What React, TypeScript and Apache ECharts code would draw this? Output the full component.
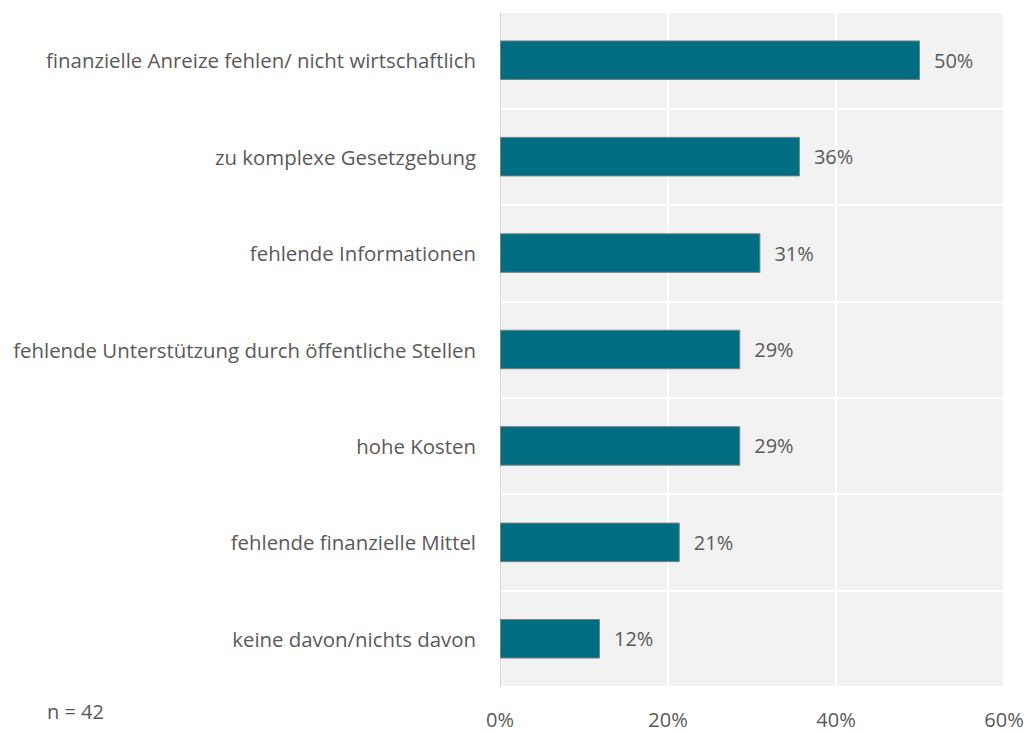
import React, { useEffect, useRef } from "react";
import * as echarts from "echarts";

const categories = [
  "finanzielle Anreize fehlen/ nicht wirtschaftlich",
  "zu komplexe Gesetzgebung",
  "fehlende Informationen",
  "fehlende Unterstützung durch öffentliche Stellen",
  "hohe Kosten",
  "fehlende finanzielle Mittel",
  "keine davon/nichts davon",
];
const values = [50.0, 35.7, 31.0, 28.6, 28.6, 21.4, 11.9];
const xTicks = [0, 20, 40, 60];
const noteText = "n = 42";

const FONT = "'Open Sans', 'Noto Sans', sans-serif";
const FS = 20;

export default function App() {
  const ref = useRef<HTMLDivElement>(null);
  useEffect(() => {
    if (!ref.current) return;
    const chart = echarts.init(ref.current, null, { renderer: "svg" });
    chart.setOption({
      animation: false,
      textStyle: { fontFamily: FONT },
      grid: {
        left: 500,
        right: 24,
        top: 12,
        bottom: 44,
        show: true,
        backgroundColor: "#f2f2f2",
        borderWidth: 0,
      },
      xAxis: {
        type: "value",
        min: xTicks[0],
        max: xTicks[xTicks.length - 1],
        interval: 20,
        axisLine: { show: false },
        axisTick: { show: false },
        splitLine: { show: true, lineStyle: { color: "#ffffff", width: 2 } },
        axisLabel: {
          color: "#595959",
          fontSize: FS,
          fontFamily: FONT,
          margin: 22,
          formatter: (v: number) => `${v}%`,
        },
      },
      yAxis: {
        type: "category",
        inverse: true,
        data: categories,
        axisLine: { show: true, lineStyle: { color: "#d9d9d9", width: 1 } },
        axisTick: { show: false },
        splitLine: { show: true, lineStyle: { color: "#ffffff", width: 2 } },
        axisLabel: {
          color: "#595959",
          fontSize: 20.4,
          fontFamily: FONT,
          margin: 24,
        },
      },
      series: [
        {
          type: "bar",
          data: values,
          barWidth: "41%",
          itemStyle: {
            color: "#006e82",
            borderColor: "#7f7f7f",
            borderWidth: 1,
          },
          label: {
            show: true,
            position: "right",
            distance: 14,
            color: "#595959",
            fontSize: FS,
            fontFamily: FONT,
            formatter: (p: any) => `${Math.round(p.value)}%`,
          },
        },
      ],
      graphic: [
        {
          type: "text",
          left: 47,
          top: 701,
          style: {
            text: noteText,
            fill: "#595959",
            fontSize: FS,
            fontFamily: FONT,
          },
        },
      ],
    });
    return () => chart.dispose();
  }, []);
  return <div ref={ref} style={{ width: 1028, height: 731, position: "absolute", left: 0, top: 0 }} />;
}
